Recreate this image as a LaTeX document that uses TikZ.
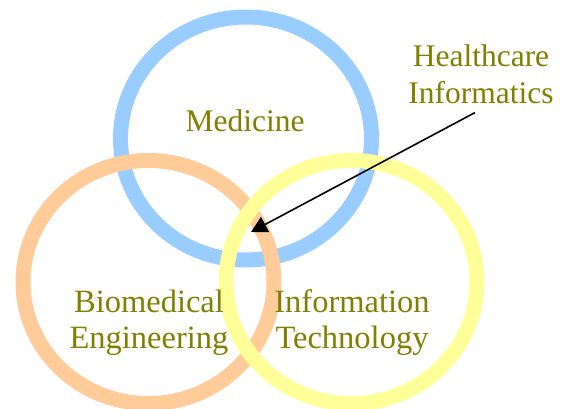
\documentclass[tikz,border=0pt]{standalone}
\usepackage{fontspec}
\setmainfont{Liberation Serif}
\usetikzlibrary{arrows.meta}
\definecolor{medblue}{HTML}{99CCFF}
\definecolor{bioorange}{HTML}{FFCC99}
\definecolor{ityellow}{HTML}{FFFF99}
\definecolor{olivetext}{HTML}{808000}
\begin{document}
\begin{tikzpicture}[x=1pt, y=-1pt,
  ring/.style={line width=15pt},
  label/.style={inner sep=0pt, align=center, text=olivetext, font=\fontsize{31.5}{37}\selectfont},
  biglabel/.style={label, font=\fontsize{32.5}{36}\selectfont},
  pointer/.style={line width=1.6pt, -{Triangle[length=16pt,width=17pt]}}]
\useasboundingbox (0,0) rectangle (566,409);
\draw[ring, medblue] (246,138.5) ellipse [x radius=125.5, y radius=121.5];
\draw[ring, bioorange] (148.5,282) ellipse [x radius=125.5, y radius=121.5];
\draw[ring, ityellow] (351.5,282) ellipse [x radius=125.5, y radius=121.5];
\node[label, anchor=base] (med) at (245,132) {Medicine};
\node[biglabel] (bme) at (149,322.5) {Biomedical\\Engineering};
\node[biglabel] (it) at (352,322.5) {Information\\Technology};
\node[label] (hc) at (481,73.8) {Healthcare\\Informatics};
\coordinate (hit) at (251,232);
\draw[pointer] ([xshift=-6pt,yshift=-9pt]hc.south) -- (hit);
\end{tikzpicture}
\end{document}
